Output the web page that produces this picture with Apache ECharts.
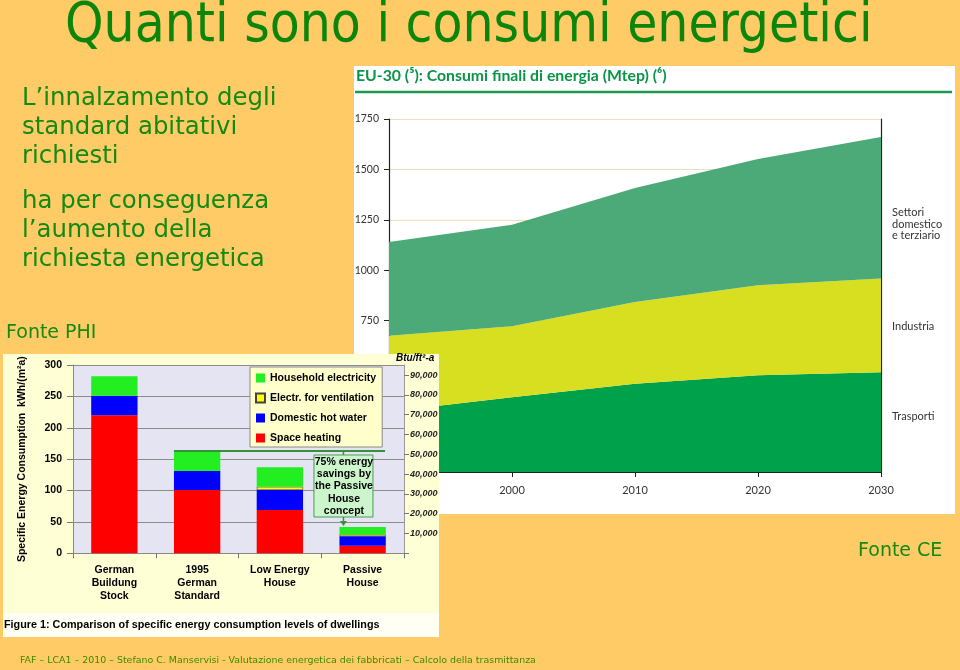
<!DOCTYPE html>
<html><head><meta charset="utf-8">
<script src="https://cdn.jsdelivr.net/npm/echarts@6/dist/echarts.min.js"></script>
<style>html,body{margin:0;padding:0;background:#FFCB66;}#main,#over{position:absolute;left:0;top:0;width:960px;height:670px;}</style>
</head><body>
<div id="main"></div><div id="over"></div>
<script>
// ---- Area chart data (EU-30, Mtep) ----
const areaYears = ['1990', '2000', '2010', '2020', '2030'];
const trasporti = [300, 371, 438, 480, 494];
const industria = [376, 351, 405, 446, 465];
const settori = [464, 504, 565, 626, 702];
const areaNames = ['Trasporti', 'Industria', 'Settori domestico e terziario'];
const areaColors = ['#00A14B', '#D8DE20', '#4CAA78'];

// ---- Bar chart data (kWh/(m²a)) ----
const barCategories = ['German\nBuildung\nStock', '1995\nGerman\nStandard', 'Low Energy\nHouse', 'Passive\nHouse'];
const spaceHeating = [220, 101, 69, 12];
const hotWater = [31, 30, 32, 15];
const ventilation = [0, 0, 5, 3];
const householdElec = [31, 32, 31, 12];
const barNames = ['Space heating', 'Domestic hot water', 'Electr. for ventilation', 'Household electricity'];
const barColors = ['#FF0000', '#0000FF', '#FFFF00', '#22EE22'];
const legendOrder = ['Household electricity', 'Electr. for ventilation', 'Domestic hot water', 'Space heating'];
const KWH_M2_TO_BTU_FT2 = 317.1;

const TXT_GREEN = '#148A14';
const SANS = "'DejaVu Sans', sans-serif";
const ARIAL = "'Liberation Sans', Arial, sans-serif";
const MYR = "Lato, 'Open Sans', sans-serif";

// ---------------- main (background + area chart) ----------------
const main = echarts.init(document.getElementById('main'), null, {renderer: 'canvas'});
main.setOption({
  animation: false,
  backgroundColor: '#FFCB66',
  graphic: [
    {type: 'rect', z: -10, shape: {x: 354, y: 66, width: 601, height: 448}, style: {fill: '#FFFFFF'}},
    {type: 'text', x: 65, y: 27, style: {text: 'Quanti sono i consumi energetici', fill: '#0B850B', fontSize: 54.5,
      fontFamily: "'DejaVu Sans Condensed', 'DejaVu Sans', sans-serif", verticalAlign: 'middle', align: 'left'}},
    {type: 'text', x: 22, y: 84, style: {text: 'L\u2019innalzamento degli\nstandard abitativi\nrichiesti', fill: TXT_GREEN,
      fontSize: 24.4, lineHeight: 29.2, fontFamily: SANS, verticalAlign: 'top'}},
    {type: 'text', x: 22, y: 187.5, style: {text: 'ha per conseguenza\nl\u2019aumento della\nrichiesta energetica', fill: TXT_GREEN,
      fontSize: 24.4, lineHeight: 29, fontFamily: SANS, verticalAlign: 'top'}},
    {type: 'text', x: 6, y: 333, style: {text: 'Fonte PHI', fill: TXT_GREEN, fontSize: 19, fontFamily: SANS, verticalAlign: 'middle'}},
    {type: 'text', x: 858, y: 551, style: {text: 'Fonte CE', fill: TXT_GREEN, fontSize: 19, fontFamily: SANS, verticalAlign: 'middle'}},
    {type: 'text', x: 20, y: 661, style: {text: 'FAF \u2013 LCA1 \u2013 2010 \u2013 Stefano C. Manservisi - Valutazione energetica dei fabbricati \u2013 Calcolo della trasmittanza',
      fill: '#3F8A00', fontSize: 9.45, fontFamily: SANS, verticalAlign: 'middle'}},
    {type: 'text', x: 356, y: 76, style: {text: 'EU-30 (\u2075): Consumi finali di energia (Mtep) (\u2076)', fill: '#0B9447',
      fontSize: 15.8, fontWeight: 'bold', fontFamily: MYR, verticalAlign: 'middle'}},
    {type: 'line', shape: {x1: 355, y1: 92, x2: 952, y2: 92}, style: {stroke: '#1E9A4F', lineWidth: 2.5}},
    {type: 'text', x: 892, y: 207, style: {text: 'Settori\ndomestico\ne terziario', fill: '#333', fontSize: 11, lineHeight: 11.5,
      fontFamily: MYR, verticalAlign: 'top'}},
    {type: 'text', x: 892, y: 326, style: {text: 'Industria', fill: '#333', fontSize: 11, fontFamily: MYR, verticalAlign: 'middle'}},
    {type: 'text', x: 892, y: 416, style: {text: 'Trasporti', fill: '#333', fontSize: 11, fontFamily: MYR, verticalAlign: 'middle'}}
  ],
  grid: {left: 389, top: 119, width: 492, height: 353},
  xAxis: {type: 'category', data: areaYears, boundaryGap: false,
    axisLine: {show: true, lineStyle: {color: '#222', width: 1.2}},
    axisTick: {show: true, length: 5, lineStyle: {color: '#222'}},
    axisLabel: {margin: 13, fontSize: 11, color: '#333', fontFamily: MYR},
    splitLine: {show: false}},
  yAxis: [
    {type: 'value', min: 0, max: 1750, interval: 250,
      axisLine: {show: true, lineStyle: {color: '#222', width: 1.2}},
      axisTick: {show: true, length: 5, lineStyle: {color: '#222'}},
      axisLabel: {margin: 10, fontSize: 10.5, color: '#333', fontFamily: MYR, formatter: v => String(v)},
      splitLine: {show: true, lineStyle: {color: '#F1DFBC', width: 1}}},
    {type: 'value', min: 0, max: 1750, position: 'right',
      axisLine: {show: true, lineStyle: {color: '#222', width: 1.2}},
      axisTick: {show: false}, axisLabel: {show: false}, splitLine: {show: false}}
  ],
  series: [trasporti, industria, settori].map((arr, i) => ({
    name: areaNames[i], type: 'line', stack: 'tot', data: arr, symbol: 'none',
    lineStyle: {width: 0, opacity: 0}, areaStyle: {color: areaColors[i], opacity: 1}
  }))
});

// ---------------- overlay (bar chart figure) ----------------
const over = echarts.init(document.getElementById('over'), null, {renderer: 'canvas'});
const seriesData = [spaceHeating, hotWater, ventilation, householdElec];
const optBar = {
  animation: false,
  graphic: [
    {id: 'panel', type: 'rect', z: -10, shape: {x: 3, y: 354, width: 436, height: 259}, style: {fill: '#FFFFD6'}},
    {id: 'capband', type: 'rect', z: -10, shape: {x: 3, y: 613, width: 436, height: 24}, style: {fill: '#FFFFF4'}},
    {id: 'caption', type: 'text', x: 4, y: 625, style: {text: 'Figure 1: Comparison of specific energy consumption levels of dwellings',
      fill: '#000', fontSize: 10.8, fontWeight: 'bold', fontFamily: ARIAL, verticalAlign: 'middle'}}
  ],
  grid: {left: 73, top: 365, width: 331, height: 188.3, show: true, backgroundColor: '#E4E4F3', borderWidth: 0},
  legend: {data: legendOrder, orient: 'vertical', left: 250, top: 367, itemWidth: 9, itemHeight: 9, itemGap: 8,
    padding: [5, 6, 3, 5], backgroundColor: '#FFFFCC', borderColor: '#8A8A8A', borderWidth: 1, icon: 'rect',
    textStyle: {fontSize: 10.5, fontWeight: 'bold', fontFamily: ARIAL, color: '#000', lineHeight: 12}},
  xAxis: {type: 'category', data: barCategories,
    axisLine: {show: true, lineStyle: {color: '#888'}},
    axisTick: {show: true, length: 5, alignWithLabel: false, lineStyle: {color: '#777'}},
    axisLabel: {interval: 0, margin: 10, fontSize: 10.5, fontWeight: 'bold', lineHeight: 13.3, color: '#000', fontFamily: ARIAL}},
  yAxis: [
    {type: 'value', min: 0, max: 300, interval: 50,
      name: 'Specific Energy Consumption  kWh/(m\u00B2a)', nameLocation: 'middle', nameGap: 45, nameRotate: 90,
      nameTextStyle: {fontSize: 10.5, fontWeight: 'bold', color: '#000', fontFamily: ARIAL},
      axisLine: {show: true, lineStyle: {color: '#888'}},
      axisTick: {show: true, length: 6, lineStyle: {color: '#777'}},
      axisLabel: {margin: 11, fontSize: 10.5, fontWeight: 'bold', color: '#000', fontFamily: ARIAL},
      splitLine: {show: true, lineStyle: {color: '#8C8C8C', width: 1}}},
    {type: 'value', position: 'right', min: 0, max: 300 * KWH_M2_TO_BTU_FT2, interval: 10000,
      name: 'Btu/ft\u00B2-a', nameLocation: 'end', nameGap: 2,
      nameTextStyle: {fontSize: 10, fontWeight: 'bold', fontStyle: 'italic', color: '#000', fontFamily: ARIAL, align: 'left', padding: [0, 0, 0, -8]},
      axisLine: {show: true, lineStyle: {color: '#999'}},
      axisTick: {show: true, length: 5, lineStyle: {color: '#777'}},
      axisLabel: {margin: 6, fontSize: 9, fontWeight: 'bold', fontStyle: 'italic', color: '#222', fontFamily: ARIAL, showMaxLabel: false,
        formatter: v => (v === 0 || v > 90000) ? '' : v.toLocaleString('en-US')},
      splitLine: {show: false}}
  ],
  series: seriesData.map((arr, i) => ({
    name: barNames[i], type: 'bar', stack: 'b', barCategoryGap: '44%',
    itemStyle: {color: barColors[i], borderColor: '#444', borderWidth: barNames[i] === 'Electr. for ventilation' ? 0.6 : 0},
    data: arr.map(v => ({value: v, itemStyle: (barNames[i] === 'Electr. for ventilation' && v === 0) ? {borderWidth: 0} : {}}))
  }))
};
over.setOption(optBar);

// annotation positioned from the data through the axes
const totals = barCategories.map((_, i) => spaceHeating[i] + hotWater[i] + ventilation[i] + householdElec[i]);
const band = over.convertToPixel({xAxisIndex: 0}, barCategories[1]) - over.convertToPixel({xAxisIndex: 0}, barCategories[0]);
const barW = band * 0.56;
const yStd = over.convertToPixel({yAxisIndex: 0}, totals[1]);
const xStdLeft = over.convertToPixel({xAxisIndex: 0}, barCategories[1]) - barW / 2;
const xPas = over.convertToPixel({xAxisIndex: 0}, barCategories[3]) - barW / 2 + 4;
const yPas = over.convertToPixel({yAxisIndex: 0}, totals[3]);
const LG = '#3A8F3A';
const boxW = 59, boxTop = yStd + 4, boxH = 62;
over.setOption({graphic: [
  {id: 'hl', type: 'line', z: 20, shape: {x1: xStdLeft, y1: yStd, x2: 385, y2: yStd}, style: {stroke: LG, lineWidth: 2}},
  {id: 'vl', type: 'line', z: 20, shape: {x1: xPas, y1: yStd, x2: xPas, y2: boxTop}, style: {stroke: LG, lineWidth: 1.5}},
  {id: 'box', type: 'rect', z: 20, shape: {x: xPas - boxW / 2, y: boxTop, width: boxW, height: boxH}, style: {fill: '#CCF5CC', stroke: '#4A9A5A', lineWidth: 1}},
  {id: 'boxtxt', type: 'text', z: 21, x: xPas + 0.5, y: boxTop + 1, style: {text: '75% energy\nsavings by\nthe Passive\nHouse\nconcept',
    fill: '#000', fontSize: 10.5, fontWeight: 'bold', fontFamily: ARIAL, align: 'center', verticalAlign: 'top', lineHeight: 12.2}},
  {id: 'arr', type: 'line', z: 20, shape: {x1: xPas, y1: boxTop + boxH, x2: xPas, y2: yPas - 4}, style: {stroke: LG, lineWidth: 1.5}},
  {id: 'arrh', type: 'polygon', z: 20, shape: {points: [[xPas - 3.5, yPas - 6], [xPas + 3.5, yPas - 6], [xPas, yPas - 1]]}, style: {fill: LG}}
]});
</script>
</body></html>
